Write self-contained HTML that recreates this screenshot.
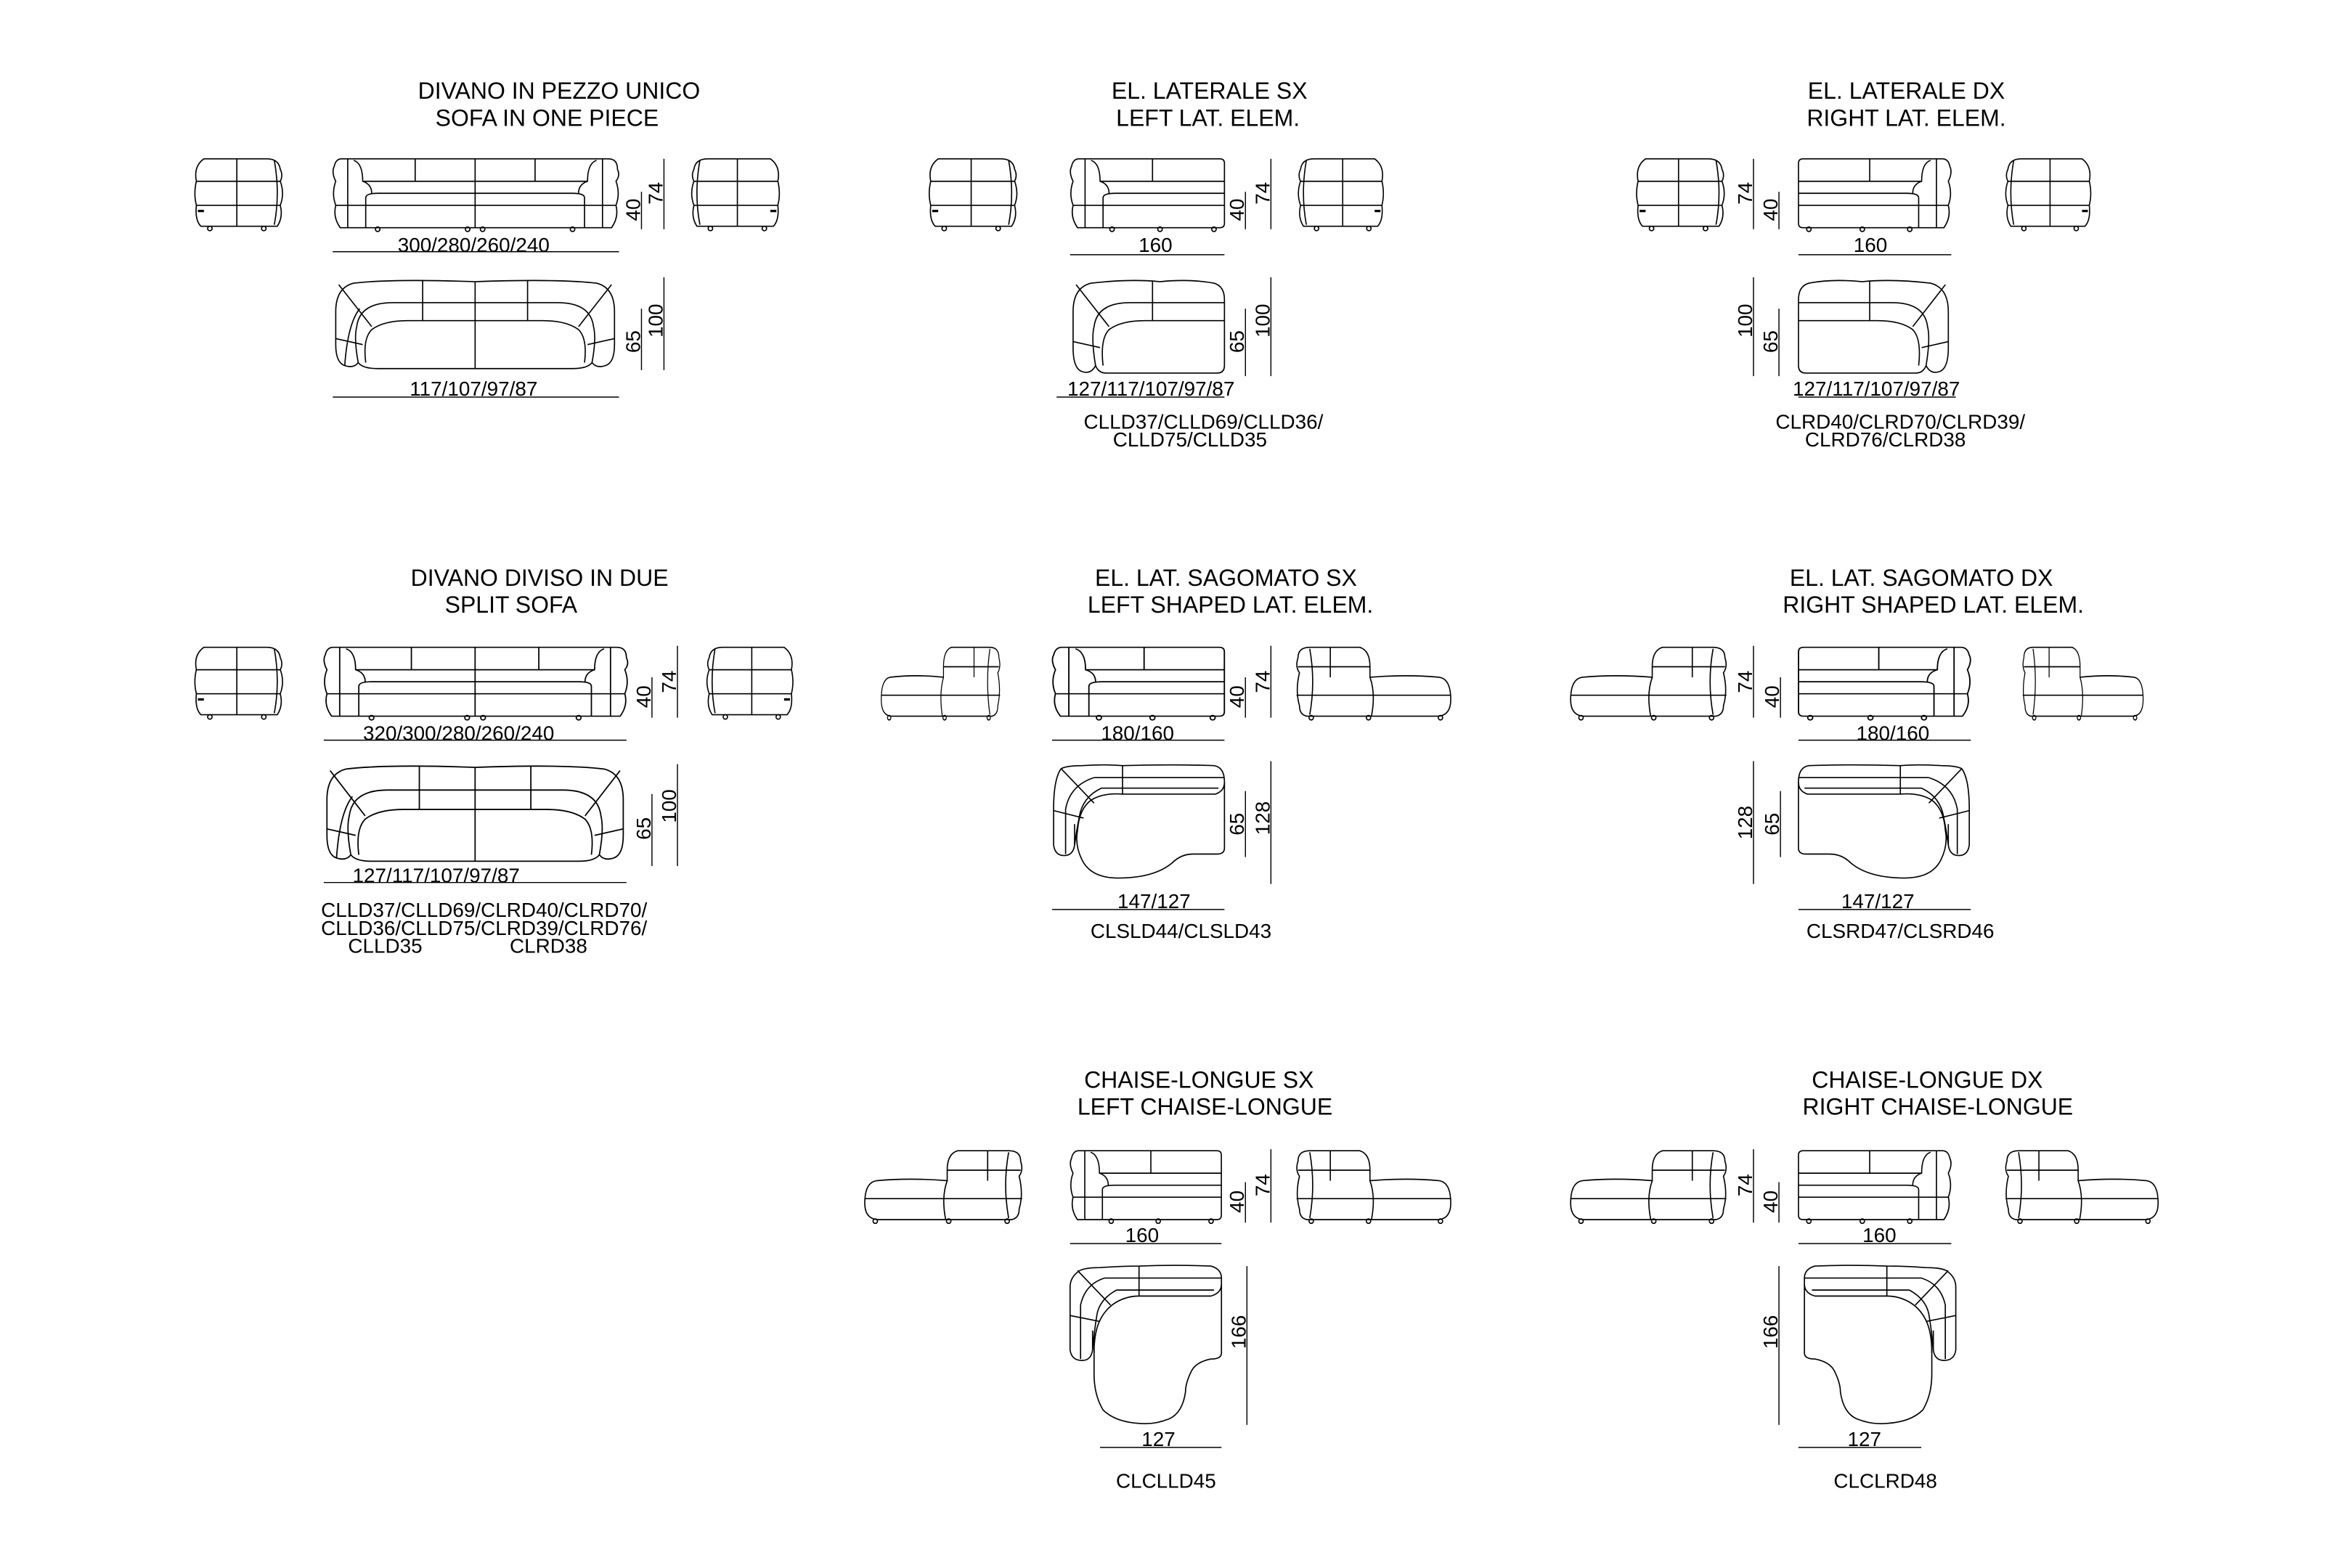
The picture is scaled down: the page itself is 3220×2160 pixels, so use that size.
<!DOCTYPE html>
<html><head><meta charset="utf-8"><style>
html,body{margin:0;padding:0;background:#fff;}
svg{display:block;}
text{font-family:"Liberation Sans",Arial,sans-serif;fill:#000;}
.t{font-size:15.5px;text-anchor:middle;}
.d{font-size:13.5px;text-anchor:middle;}
</style></head><body>
<svg width="3220" height="2160" viewBox="0 0 1560 1046.5" xmlns="http://www.w3.org/2000/svg">
<rect width="1560" height="1046.5" fill="#fff"/>
<defs>
<g id="side" fill="none" stroke="#000" stroke-width="0.8">
 <path d="M8,1 H50 Q58,1 59,8 Q61,12 59,16 Q62,24 59,32 Q61,40 57,46 H6 Q2,42 3,32 Q1,24 3,16 Q1,6 8,1Z"/>
 <path d="M3,16 H59 M3,32 H59 M30,1 V46 M55,2 Q59,24 55,45"/>
 <circle cx="12" cy="47.5" r="1.5"/><circle cx="48" cy="47.5" r="1.5"/>
 <rect x="4" y="35" width="4" height="1.6" fill="#000" stroke="none"/>
</g>
<g id="sideC" fill="none" stroke="#000" stroke-width="0.8">
 <path d="M62,1 H96 Q104,1 104,8 Q106,14 103,18 Q106,30 103,40 Q103,46 98,47 H8 Q0,46 0,36 Q0,22 8,21 Q30,19 55,21 V14 Q55,3 62,1Z"/>
 <path d="M0,33 H105 M55,21 Q51,32 54,47 M82,1 V21 M55,14 H104 M96,2 Q92,24 96,46"/>
 <circle cx="7" cy="48" r="1.5"/><circle cx="56" cy="48" r="1.5"/><circle cx="95" cy="48" r="1.5"/>
</g>
<g id="frontF" fill="none" stroke="#000" stroke-width="0.8">
 <path d="M6,1 H184 Q190,1 190,8 Q192,12 189,16 Q192,24 189,32 Q191,40 186,47 H5 Q0,40 2,32 Q-1,24 2,16 Q-1,10 1,6 Q2,1 6,1Z"/>
 <path d="M10,1 V47 M180,1 V47 M14,2 Q20,4 20,16 Q26,18 26,24 M176,2 Q170,4 170,16 Q164,18 164,24 M20,16 H170 M22,32 V27 Q22,24 30,24 H160 Q168,24 168,27 V32 M2,32 H189 M95,1 V47 M55,1 V16 M135,1 V16 M22,32 V47 M168,32 V47"/>
 <circle cx="30" cy="48" r="1.5"/><circle cx="90" cy="48" r="1.5"/><circle cx="100" cy="48" r="1.5"/><circle cx="160" cy="48" r="1.5"/>
</g>
<g id="frontL" fill="none" stroke="#000" stroke-width="0.8">
 <path d="M6,1 H100 Q103,1 103,4 V44 Q103,47 100,47 H5 Q0,40 2,32 Q-1,24 2,16 Q-1,10 1,6 Q2,1 6,1Z"/>
 <path d="M10,1 V47 M14,2 Q20,4 20,16 Q26,18 26,24 M20,16 H103 M22,32 V27 Q22,24 30,24 H103 M2,32 H103 M55,1 V16 M22,32 V47"/>
 <circle cx="28" cy="48" r="1.5"/><circle cx="60" cy="48" r="1.5"/><circle cx="96" cy="48" r="1.5"/>
</g>
<g id="topF" fill="none" stroke="#000" stroke-width="0.8">
 <path d="M8,58 Q2,56 2,44 L2,22 Q2,6 14,3 Q40,0 95,2 Q150,0 176,3 Q188,6 188,22 L188,44 Q188,56 182,58 Q176,60 173,56 Q170,60 160,60 H30 Q20,60 17,56 Q14,60 8,58Z"/>
 <path d="M17,56 Q14,40 16,32 Q18,16 40,16 H150 Q172,16 174,32 Q176,40 173,56 M22,56 Q20,40 26,34 Q34,28 50,28 H140 Q156,28 164,34 Q170,40 168,56 M95,2 V60 M60,1 V28 M130,1 V28 M4,4 L26,32 M186,4 L164,32 M2,40 L20,44 M188,40 L170,44 M8,58 Q10,30 18,20"/>
</g>
<g id="topL" fill="none" stroke="#000" stroke-width="0.8">
 <path d="M8,62 Q2,60 2,46 L2,22 Q2,6 14,3 Q40,0 60,2 Q80,0 96,3 Q103,5 103,14 V58 Q103,63 98,63 H24 Q19,63 17,58 Q14,64 8,62Z"/>
 <path d="M17,58 Q14,40 16,32 Q18,16 40,16 H103 M22,58 Q20,40 26,34 Q34,28 50,28 H103 M55,2 V28 M4,4 L26,32 M2,42 L20,46"/>
</g>
<g id="shapeL" fill="none" stroke="#000" stroke-width="0.8">
 <path d="M6,3 Q10,1 20,1 Q35,0 47,1 Q80,0 108,1 Q115,2 115,12 V56 Q115,60 110,60 H94 Q86,60 80,66 Q68,76 44,76 Q26,76 20,64 Q15,54 17,44"/>
 <path d="M6,3 Q1,10 1,30 V54 Q2,61 8,61 Q14,61 15,54 V40"/>
 <path d="M17,44 Q18,30 26,24 Q34,19 47,20 H109 Q115,18 115,12 M28,9 H115 M33,16 H111 M47,1 V20 M28,9 Q12,14 9,30 V60 M33,16 Q20,22 18,36 Q16,46 15,54 M6,3 L28,26 M1,31 L21,36"/>
</g>
<g id="chL" fill="none" stroke="#000" stroke-width="0.8">
 <path d="M5,4 Q8,1 20,1 Q35,0 46,0 Q70,-1 94,0 Q101,2 101,8 V58 Q101,62 94,62 Q84,64 81,70 Q77,78 77,84 Q75,98 66,102 Q56,106 46,105 Q30,104 22,96 Q16,86 16,72 V56"/>
 <path d="M5,4 Q0,8 0,14 V56 Q1,63 8,63 Q14,63 15,56 V43"/>
 <path d="M16,58 Q16,44 20,36 Q24,28 31,24 Q38,20 46,20 H94 Q101,18 101,12 M23,8 H101 M31,16 H96 M46,0 V20 M23,8 Q10,12 7,26 V62 M31,16 Q20,22 18,32 Q16,44 15,56 M5,3 L27,26 M0,33 L20,37"/>
</g>
</defs>

<g fill="none" stroke="#000" stroke-width="0.7">
<!-- S1 -->
<path d="M428,128 V153 M443,106 V153 M222,168 H413 M428,206 V247 M443,185 V247 M222,265 H413"/>
<!-- S2 -->
<path d="M831,128 V153 M848,106 V153 M714,170 H817 M831,206 V251 M848,185 V251 M705,265 H817"/>
<!-- S3 -->
<path d="M1170,106 V153 M1187,128 V153 M1200,170 H1302 M1170,185 V251 M1187,206 V251 M1200,265 H1305"/>
<!-- S4 -->
<path d="M435,452 V479 M452,431 V479 M216,494 H418 M435,530 V578 M452,510 V578 M216,589 H418"/>
<!-- S5 -->
<path d="M831,452 V479 M848,431 V479 M702,494 H817 M831,528 V572 M848,508 V590 M702,607 H817"/>
<!-- S6 -->
<path d="M1170,431 V479 M1188,452 V479 M1200,494 H1315 M1170,508 V590 M1188,528 V572 M1200,607 H1315"/>
<!-- S7 -->
<path d="M831,789 V816 M848,767 V816 M714,830 H815 M832,845 V951 M734,966 H815"/>
<!-- S8 -->
<path d="M1170,767 V816 M1187,789 V816 M1200,830 H1302 M1187,845 V951 M1200,966 H1282"/>
</g>

<!-- S1 drawings -->
<use href="#side" transform="translate(128,105)"/>
<use href="#frontF" transform="translate(222,105)"/>
<use href="#side" transform="translate(522,105) scale(-1,1)"/>
<use href="#topF" transform="translate(222,186)"/>
<!-- S2 -->
<use href="#side" transform="translate(618,105)"/>
<use href="#frontL" transform="translate(714,105)"/>
<use href="#side" transform="translate(925,105) scale(-0.97,1)"/>
<use href="#topL" transform="translate(714,186)"/>
<!-- S3 -->
<use href="#side" transform="translate(1090,105)"/>
<use href="#frontL" transform="translate(1302,105) scale(-0.99,1)"/>
<use href="#side" transform="translate(1397,105) scale(-0.97,1)"/>
<use href="#topL" transform="translate(1302,186) scale(-0.99,1)"/>
<!-- S4 -->
<use href="#side" transform="translate(128,431)"/>
<use href="#frontF" transform="translate(216,431) scale(1.063,1)"/>
<use href="#side" transform="translate(531,431) scale(-0.98,1)"/>
<use href="#topF" transform="translate(216,510) scale(1.063,1.08)"/>
<!-- S5 -->
<use href="#sideC" transform="translate(588,431) scale(0.755,1)"/>
<use href="#frontL" transform="translate(702,431) scale(1.116,1)"/>
<use href="#sideC" transform="translate(968,431) scale(-0.98,1)"/>
<use href="#shapeL" transform="translate(702,510)"/>
<!-- S6 -->
<use href="#sideC" transform="translate(1048,431) scale(0.99,1)"/>
<use href="#frontL" transform="translate(1315,431) scale(-1.116,1)"/>
<use href="#sideC" transform="translate(1430,431) scale(-0.765,1)"/>
<use href="#shapeL" transform="translate(1315,510) scale(-1,1)"/>
<!-- S7 -->
<use href="#sideC" transform="translate(577,767)"/>
<use href="#frontL" transform="translate(714,767) scale(0.98,1)"/>
<use href="#sideC" transform="translate(968,767) scale(-0.98,1)"/>
<use href="#chL" transform="translate(714,845)"/>
<!-- S8 -->
<use href="#sideC" transform="translate(1048,767) scale(0.99,1)"/>
<use href="#frontL" transform="translate(1302,767) scale(-0.99,1)"/>
<use href="#sideC" transform="translate(1440,767) scale(-0.97,1)"/>
<use href="#chL" transform="translate(1305,845) scale(-1,1)"/>

<!-- titles -->
<text class="t" x="373" y="66">DIVANO IN PEZZO UNICO</text>
<text class="t" x="365" y="84">SOFA IN ONE PIECE</text>
<text class="t" x="807" y="66">EL. LATERALE SX</text>
<text class="t" x="806" y="84">LEFT LAT. ELEM.</text>
<text class="t" x="1272" y="66">EL. LATERALE DX</text>
<text class="t" x="1272" y="84">RIGHT LAT. ELEM.</text>
<text class="t" x="360" y="391">DIVANO DIVISO IN DUE</text>
<text class="t" x="341" y="409">SPLIT SOFA</text>
<text class="t" x="818" y="391">EL. LAT. SAGOMATO SX</text>
<text class="t" x="821" y="409">LEFT SHAPED LAT. ELEM.</text>
<text class="t" x="1282" y="391">EL. LAT. SAGOMATO DX</text>
<text class="t" x="1290" y="409">RIGHT SHAPED LAT. ELEM.</text>
<text class="t" x="800" y="726">CHAISE-LONGUE SX</text>
<text class="t" x="804" y="744">LEFT CHAISE-LONGUE</text>
<text class="t" x="1286" y="726">CHAISE-LONGUE DX</text>
<text class="t" x="1293" y="744">RIGHT CHAISE-LONGUE</text>

<!-- dimension labels -->
<g class="d">
<text class="d" x="316" y="168">300/280/260/240</text>
<text class="d" x="316" y="264">117/107/97/87</text>
<text class="d" x="771" y="168">160</text>
<text class="d" x="768" y="264">127/117/107/97/87</text>
<text class="d" x="803" y="286">CLLD37/CLLD69/CLLD36/</text>
<text class="d" x="794" y="298">CLLD75/CLLD35</text>
<text class="d" x="1248" y="168">160</text>
<text class="d" x="1252" y="264">127/117/107/97/87</text>
<text class="d" x="1268" y="286">CLRD40/CLRD70/CLRD39/</text>
<text class="d" x="1258" y="298">CLRD76/CLRD38</text>
<text class="d" x="306" y="494">320/300/280/260/240</text>
<text class="d" x="291" y="589">127/117/107/97/87</text>
<text class="d" x="323" y="612">CLLD37/CLLD69/CLRD40/CLRD70/</text>
<text class="d" x="323" y="624">CLLD36/CLLD75/CLRD39/CLRD76/</text>
<text class="d" x="257" y="636">CLLD35</text>
<text class="d" x="366" y="636">CLRD38</text>
<text class="d" x="759" y="494">180/160</text>
<text class="d" x="770" y="606">147/127</text>
<text class="d" x="788" y="626">CLSLD44/CLSLD43</text>
<text class="d" x="1263" y="494">180/160</text>
<text class="d" x="1253" y="606">147/127</text>
<text class="d" x="1268" y="626">CLSRD47/CLSRD46</text>
<text class="d" x="762" y="829">160</text>
<text class="d" x="773" y="965">127</text>
<text class="d" x="778" y="993">CLCLLD45</text>
<text class="d" x="1254" y="829">160</text>
<text class="d" x="1244" y="965">127</text>
<text class="d" x="1258" y="993">CLCLRD48</text>
</g>
<!-- rotated dims -->
<g>
<text class="d" transform="translate(427,140) rotate(-90)">40</text>
<text class="d" transform="translate(442,129) rotate(-90)">74</text>
<text class="d" transform="translate(427,228) rotate(-90)">65</text>
<text class="d" transform="translate(442,214) rotate(-90)">100</text>
<text class="d" transform="translate(830,140) rotate(-90)">40</text>
<text class="d" transform="translate(847,129) rotate(-90)">74</text>
<text class="d" transform="translate(830,228) rotate(-90)">65</text>
<text class="d" transform="translate(847,214) rotate(-90)">100</text>
<text class="d" transform="translate(1169,129) rotate(-90)">74</text>
<text class="d" transform="translate(1186,140) rotate(-90)">40</text>
<text class="d" transform="translate(1169,214) rotate(-90)">100</text>
<text class="d" transform="translate(1186,228) rotate(-90)">65</text>
<text class="d" transform="translate(434,465) rotate(-90)">40</text>
<text class="d" transform="translate(451,455) rotate(-90)">74</text>
<text class="d" transform="translate(434,553) rotate(-90)">65</text>
<text class="d" transform="translate(451,538) rotate(-90)">100</text>
<text class="d" transform="translate(830,465) rotate(-90)">40</text>
<text class="d" transform="translate(847,455) rotate(-90)">74</text>
<text class="d" transform="translate(830,550) rotate(-90)">65</text>
<text class="d" transform="translate(847,546) rotate(-90)">128</text>
<text class="d" transform="translate(1169,455) rotate(-90)">74</text>
<text class="d" transform="translate(1187,465) rotate(-90)">40</text>
<text class="d" transform="translate(1169,549) rotate(-90)">128</text>
<text class="d" transform="translate(1187,550) rotate(-90)">65</text>
<text class="d" transform="translate(830,802) rotate(-90)">40</text>
<text class="d" transform="translate(847,791) rotate(-90)">74</text>
<text class="d" transform="translate(831,889) rotate(-90)">166</text>
<text class="d" transform="translate(1169,791) rotate(-90)">74</text>
<text class="d" transform="translate(1186,802) rotate(-90)">40</text>
<text class="d" transform="translate(1186,889) rotate(-90)">166</text>
</g>
</svg>
</body></html>
